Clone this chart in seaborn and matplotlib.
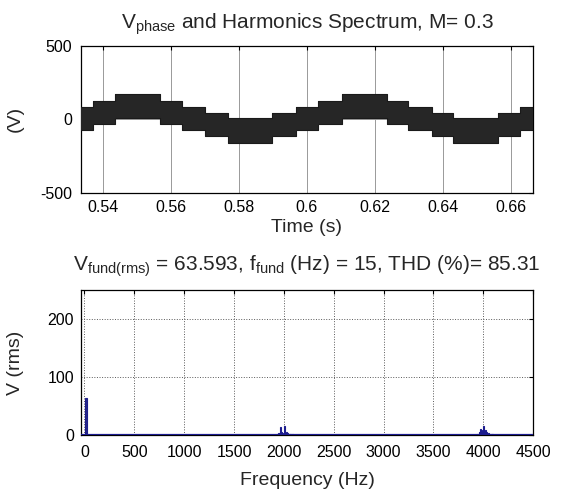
import numpy as np
import pandas as pd
import matplotlib
matplotlib.use("Agg")
import matplotlib.pyplot as plt
import seaborn as sns

# ---------------- data ----------------
# Top panel: staircase PWM band (start time of each segment, band top/bottom in V)
seg_start = [0.5333, 0.5368, 0.5435, 0.5567, 0.5631, 0.5700, 0.5768, 0.5898,
             0.5967, 0.6031, 0.6104, 0.6236, 0.6299, 0.6367, 0.6431, 0.6563, 0.6629]
seg_stop = 0.6667
band_top = [85, 124, 171, 124, 85, 44, 6, 44, 85, 124, 171, 124, 85, 44, 6, 44, 85]
band_bot = [-73, -35, 6, -35, -73, -114, -160, -114, -73, -35, 6, -35, -73, -114, -160, -114, -73]

time_ticks = [0.54, 0.56, 0.58, 0.60, 0.62, 0.64, 0.66]
time_tick_labels = ["0.54", "0.56", "0.58", "0.6", "0.62", "0.64", "0.66"]
volt_ticks = [-500, 0, 500]

# Bottom panel: harmonic spectrum (Hz, V rms)
harm_freq = [15, 1935, 1950, 1965, 1980, 1995, 2010, 2025, 2040, 2055, 2070, 2085, 2100, 2115,
             3945, 3960, 3975, 3990, 4005, 4020, 4035, 4050, 4065, 4080, 4095]
harm_amp = [63.6, 1.5, 3.0, 14.0, 5.0, 3.0, 16.0, 6.0, 3.0, 2.5, 1.5, 1.0, 0.8, 0.5,
            2.0, 6.0, 11.0, 9.0, 16.0, 8.0, 5.0, 3.0, 2.0, 1.5, 1.0]
freq_ticks = [0, 500, 1000, 1500, 2000, 2500, 3000, 3500, 4000, 4500]
rms_ticks = [0, 100, 200]

title_top = r"$V_{phase}$ and Harmonics Spectrum, M= 0.3"
title_bottom = r"$V_{fund(rms)}$ = 63.593, $f_{fund}$ (Hz) = 15, THD (%)= 85.31"

# ---------------- style ----------------
sns.set_style("white")
plt.rcParams["font.family"] = ["Liberation Sans", "DejaVu Sans"]
plt.rcParams["mathtext.fontset"] = "custom"
plt.rcParams["mathtext.rm"] = "Liberation Sans"
plt.rcParams["mathtext.it"] = "Liberation Sans"
plt.rcParams["mathtext.default"] = "regular"
plt.rcParams["axes.linewidth"] = 0.9

navy = "#1c1c8e"

fig = plt.figure(figsize=(5.62, 4.90), dpi=100)
ax1 = fig.add_axes([0.1436, 0.6067, 0.8053, 0.300])
ax2 = fig.add_axes([0.1441, 0.1122, 0.8046, 0.2960])

# ---- top panel ----
df_band = pd.DataFrame({
    "t": seg_start + [seg_stop],
    "top": band_top + [band_top[-1]],
    "bot": band_bot + [band_bot[-1]],
})
ax1.fill_between(df_band["t"], df_band["bot"], df_band["top"], step="post",
                 color="#262626", lw=0, zorder=3)
sns.lineplot(data=df_band, x="t", y="top", drawstyle="steps-post", color="#1a1a1a",
             lw=0.8, ax=ax1, zorder=4)
sns.lineplot(data=df_band, x="t", y="bot", drawstyle="steps-post", color="#1a1a1a",
             lw=0.8, ax=ax1, zorder=4)
ax1.set_xlim(0.5333, 0.6667)
ax1.set_ylim(-500, 500)
ax1.set_xticks(time_ticks)
ax1.set_xticklabels(time_tick_labels)
ax1.set_yticks(volt_ticks)
ax1.set_yticklabels(["-500", "0", "500"])
ax1.grid(True, color="0.6", lw=0.7, ls="-")
ax1.set_axisbelow(True)
ax1.set_xlabel("Time (s)", fontsize=14, labelpad=3)
ax1.set_ylabel("(V)", fontsize=14)
ax1.yaxis.set_label_coords(-0.125, 0.5)
ax1.set_title(title_top, fontsize=15, pad=12)

# ---- bottom panel ----
df_h = pd.DataFrame({"f": harm_freq, "v": harm_amp})
sns.barplot(data=df_h, x="f", y="v", native_scale=True, color=navy, width=0.8,
            edgecolor=navy, linewidth=0.8, ax=ax2, zorder=3)
ax2.axhline(0.8, color=navy, lw=1.6, zorder=4)
ax2.set_xlim(-35, 4500)
ax2.set_ylim(0, 250)
ax2.set_xticks(freq_ticks)
ax2.set_xticklabels([str(v) for v in freq_ticks])
ax2.set_yticks(rms_ticks)
ax2.set_yticklabels([str(v) for v in rms_ticks])
ax2.grid(True, color="0.35", lw=0.7, ls=":")
ax2.set_axisbelow(True)
ax2.set_xlabel("Frequency (Hz)", fontsize=14, labelpad=9)
ax2.set_ylabel("V (rms)", fontsize=14)
ax2.yaxis.set_label_coords(-0.125, 0.5)
ax2.set_title(title_bottom, fontsize=15, pad=14)

for ax in (ax1, ax2):
    ax.tick_params(direction="in", top=True, right=True, length=3, width=0.8,
                   labelsize=11.5, pad=5, colors="black")
    for s in ax.spines.values():
        s.set_color("black")
        s.set_visible(True)
ax2.tick_params(axis="x", pad=7)
ax1.tick_params(axis="y", pad=6)

fig.savefig("out.png", dpi=100)
